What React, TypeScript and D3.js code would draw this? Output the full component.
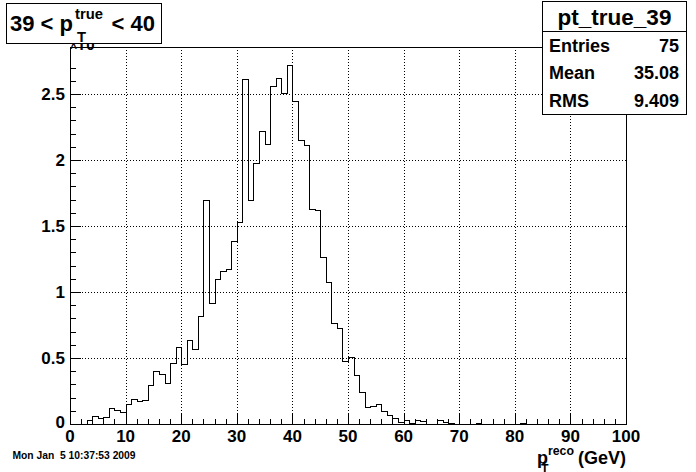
import React from "react";
import * as d3 from "d3";

// ---- data ----
const binValues: number[] = [
  0, 0, 0, 0.028, 0.06, 0.048, 0.055, 0.12, 0.106, 0.093,
  0.154, 0.187, 0.174, 0.18, 0.295, 0.4, 0.376, 0.308, 0.462, 0.58,
  0.455, 0.64, 0.57, 0.82, 1.7, 0.92, 1.1, 1.157, 1.174, 1.386,
  1.53, 2.61, 1.695, 1.975, 2.22, 2.12, 2.56, 2.62, 2.51, 2.72,
  2.445, 2.15, 2.11, 1.626, 1.62, 1.263, 1.073, 0.763, 0.725, 0.477,
  0.51, 0.369, 0.242, 0.126, 0.136, 0.149, 0.1, 0.07, 0.043, 0.012,
  0.03, 0.008, 0.028, 0.02, 0, 0, 0.028, 0.012, 0.005, 0,
  0, 0, 0, 0.005, 0, 0, 0, 0, 0, 0,
  0, 0.008, 0, 0, 0, 0, 0, 0, 0, 0,
  0, 0, 0, 0, 0, 0, 0, 0, 0, 0,
];
const xTicks: number[] = [0, 10, 20, 30, 40, 50, 60, 70, 80, 90, 100];
const yTicks: number[] = [0, 0.5, 1, 1.5, 2, 2.5];
const yTickLabels: string[] = ["0", "0.5", "1", "1.5", "2", "2.5"];
const statsLabels: string[] = ["Entries", "Mean", "RMS"];
const statsValues: string[] = ["75", "35.08", "9.409"];
const histName = "pt_true_39";
const dateText = "Mon Jan  5 10:37:53 2009";

const FONT = "'Liberation Sans', Arial, Helvetica, sans-serif";

export default function App() {
  const W = 696, H = 472;
  const left = 70, right = 626, top = 47, bottom = 424;
  const x = d3.scaleLinear().domain([0, 100]).range([left, right]);
  const y = d3.scaleLinear().domain([0, 2.856]).range([bottom, top]);

  const pts: [number, number][] = [[0, 0]];
  binValues.forEach((v, i) => pts.push([i, v]));
  pts.push([100, binValues[binValues.length - 1]]);
  pts.push([100, 0]);
  const line = d3
    .line<[number, number]>()
    .x((d) => Math.round(x(d[0])) + 0.5)
    .y((d) => Math.round(y(d[1])) + 0.5)
    .curve(d3.curveStepAfter);
  const histPath = line(pts) || "";

  const xMinor = d3.range(0, 101, 2).filter((v) => v % 10 !== 0);
  const yMinor = d3.range(0, 28).map((i) => i / 10).filter((v) => Math.round(v * 10) % 5 !== 0);

  return (
    <svg
      width={W}
      height={H}
      style={{ position: "fixed", left: 0, top: 0, background: "#fff" }}
      fontFamily={FONT}
      fontWeight="bold"
    >
      <rect x={0} y={0} width={W} height={H} fill="#fff" />

      {/* grid */}
      <g stroke="#000" strokeWidth={1} strokeDasharray="1,2" shapeRendering="crispEdges">
        {xTicks.slice(1, -1).map((t) => (
          <line key={"gx" + t} x1={Math.round(x(t)) + 0.5} x2={Math.round(x(t)) + 0.5} y1={top} y2={bottom} />
        ))}
        {yTicks.slice(1).map((t) => (
          <line key={"gy" + t} x1={left} x2={right} y1={Math.round(y(t)) + 0.5} y2={Math.round(y(t)) + 0.5} />
        ))}
      </g>

      {/* histogram */}
      <path d={histPath} fill="none" stroke="#000" strokeWidth={1} shapeRendering="crispEdges" />

      {/* frame */}
      <rect x={left + 0.5} y={top + 0.5} width={right - left} height={bottom - top} fill="none" stroke="#000" strokeWidth={1} shapeRendering="crispEdges" />

      {/* ticks */}
      <g stroke="#000" strokeWidth={1} shapeRendering="crispEdges">
        {xTicks.map((t) => (
          <line key={"xt" + t} x1={Math.round(x(t)) + 0.5} x2={Math.round(x(t)) + 0.5} y1={bottom} y2={bottom - 11} />
        ))}
        {xMinor.map((t) => (
          <line key={"xm" + t} x1={Math.round(x(t)) + 0.5} x2={Math.round(x(t)) + 0.5} y1={bottom} y2={bottom - 5} />
        ))}
        {yTicks.map((t) => (
          <line key={"yt" + t} x1={left} x2={left + 11} y1={Math.round(y(t)) + 0.5} y2={Math.round(y(t)) + 0.5} />
        ))}
        {yMinor.map((t) => (
          <line key={"ym" + t} x1={left} x2={left + 6} y1={Math.round(y(t)) + 0.5} y2={Math.round(y(t)) + 0.5} />
        ))}
      </g>

      {/* x tick labels */}
      <g fontSize={17} textAnchor="middle" fill="#000">
        {xTicks.map((t) => (
          <text key={"xl" + t} x={x(t)} y={442}>{String(t)}</text>
        ))}
      </g>
      {/* y tick labels */}
      <g fontSize={17} textAnchor="end" fill="#000">
        {yTicks.map((t, i) => (
          <text key={"yl" + t} x={left - 5} y={y(t) + (i === 0 ? 4 : 6)}>{yTickLabels[i]}</text>
        ))}
      </g>

      {/* x axis title */}
      <g fill="#000">
        <text x={537} y={464} fontSize={18}>p</text>
        <text x={548} y={455} fontSize={12.3}>reco</text>
        <text x={541} y={473} fontSize={12.3}>T</text>
        <text x={626} y={464} fontSize={18} textAnchor="end">(GeV)</text>
      </g>

      {/* footer date */}
      <text x={12.5} y={459} fontSize={10.3} fill="#000" style={{ whiteSpace: "pre" }} xmlSpace="preserve">{dateText}</text>

      {/* fragment under title box */}
      <text x={77} y={50} fontSize={15} fill="#000">T0</text>
      <text x={70} y={52} fontSize={12} fill="#000">^</text>

      {/* title box */}
      <rect x={6.5} y={3.5} width={155} height={40} fill="#fff" stroke="#000" strokeWidth={1} shapeRendering="crispEdges" />
      <g fill="#000">
        <text x={10} y={30.5} fontSize={22}>39 &lt; p</text>
        <text x={75} y={18.5} fontSize={14.8}>true</text>
        <text x={77} y={41.5} fontSize={14.8}>T</text>
        <text x={111.5} y={30.5} fontSize={22}>&lt; 40</text>
      </g>

      {/* stats box */}
      <rect x={542.5} y={1.5} width={144} height={113} fill="#fff" stroke="#000" strokeWidth={1} shapeRendering="crispEdges" />
      <line x1={542.5} x2={686.5} y1={31.5} y2={31.5} stroke="#000" strokeWidth={1} shapeRendering="crispEdges" />
      <text x={614.5} y={25} fontSize={22.5} textAnchor="middle" fill="#000">{histName}</text>
      {statsLabels.map((lab, i) => (
        <g key={lab} fontSize={18} fill="#000">
          <text x={549} y={51.5 + i * 27.7}>{lab}</text>
          <text x={679} y={51.5 + i * 27.7} textAnchor="end">{statsValues[i]}</text>
        </g>
      ))}
    </svg>
  );
}
